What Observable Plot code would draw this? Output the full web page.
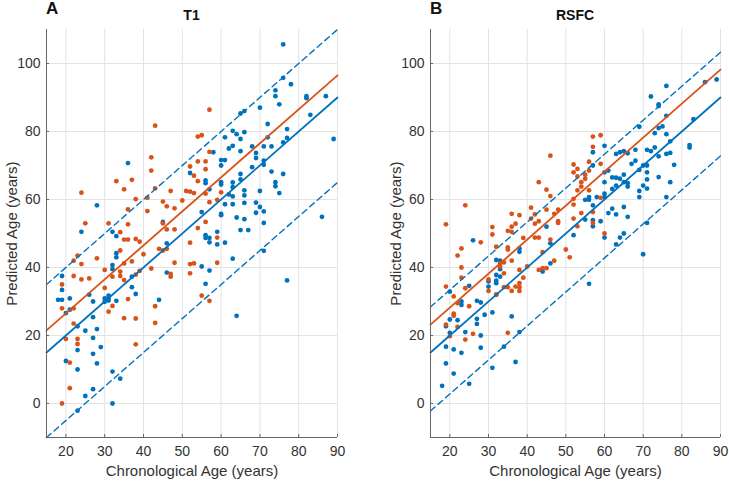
<!DOCTYPE html>
<html>
<head>
<meta charset="utf-8">
<script src="https://cdn.jsdelivr.net/npm/d3@7"></script>
<script src="https://cdn.jsdelivr.net/npm/@observablehq/plot@0.6"></script>
<style>
  html, body { margin: 0; padding: 0; background: #fff; }
  #wrap { position: relative; width: 729px; height: 482px; font-family: "Liberation Sans", Arial, sans-serif; }
  .panel { position: absolute; top: 0; }
  .tag { position: absolute; font-weight: bold; font-size: 17px; color: #111; top: -1px; }
  .ttl { position: absolute; font-weight: bold; font-size: 14px; color: #111; top: 7px; transform: translateX(-50%); }
</style>
</head>
<body>
<div id="wrap"></div>
<script>
// ---------- data ----------
const xTicks = [20, 30, 40, 50, 60, 70, 80, 90];
const yTicks = [0, 20, 40, 60, 80, 100];
const xDomain = [15, 90];
const yDomain = [-10, 110];
const panelTags = ["A", "B"];
const panelTitles = ["T1", "RSFC"];
const xLabel = "Chronological Age (years)";
const yLabel = "Predicted Age (years)";

// Fit lines: predicted age at chronological age 15 and 90
const lineAges = [15, 90];
const A_orangeFit = [21.5, 96.5];
const A_blueFit = [15, 90];
const A_upperBand = [35, 110];
const A_lowerBand = [-10, 65];
const B_orangeFit = [23.2, 98.2];
const B_blueFit = [15, 90];
const B_upperBand = [28.4, 103.3];
const B_lowerBand = [-2.2, 72.8];

// Panel A (T1) points [age, predicted]
const A_orange = [[19,0],[19,35],[19,28],[20,19],[21,12],[21,4.5],[22,42],[22,37.5],[22,28],[22,23.5],[23,43.5],[23,19],[23,17.5],[24,62],[24,41],[24,36.5],[25,53],[26,36.8],[28,42.7],[30,39.3],[30,34],[31,53],[31,27],[32,37.3],[32,28.7],[33,65.4],[34,50.4],[34,45],[34,38.8],[34,37.5],[35,63],[35,48.2],[35,41.2],[35,36.3],[35,25.1],[36,57.1],[36,52.7],[36,48.2],[36,30.7],[37,65.8],[37,41.8],[38,60.1],[38,48.4],[38,37.9],[38,25],[38,17.4],[39,47.6],[39,39],[40,43.9],[41,60.5],[41,56.6],[42,72.4],[42,68.5],[42,39.7],[43,81.7],[43,63.3],[43,28.6],[43,23.7],[44,45.5],[45,45],[46,45.5],[45,59.4],[45,53],[46,58],[46,51.2],[47,62.5],[47,38.1],[47,37.3],[48,57.4],[48,51.2],[48,41.4],[50,59.7],[51,62.5],[52,69.7],[52,62.3],[52,47.3],[52,41],[52,38.3],[53,61.9],[53,67],[53,41.2],[54,78.5],[54,71.2],[54,65.4],[54,51.6],[55,78.9],[55,31.7],[56,71.2],[56,68.9],[56,61.7],[56,53.4],[57,86.4],[57,74],[57,59.2],[57,30.2],[59,59.9],[59,48.8],[59,41.4],[60,62.1]];
const A_blue = [[18,30.5],[19,30.5],[19,37.5],[19,33.4],[20,26.6],[20,12.5],[21,30.9],[21,27.6],[23,22.7],[23,15.7],[23,10],[23,-2.1],[24,50.5],[25,21.4],[25,2.2],[26,32],[27,30],[27,25.4],[27,19.3],[27,14.6],[27,4.2],[28,58.3],[28,21.9],[28,11.8],[29,16.6],[30,30.9],[30,29.9],[31,31.7],[31,30.9],[31,30.3],[32,50.5],[32,40.7],[32,39.5],[32,9.4],[32,0],[33,49.2],[33,44.2],[33,43],[33,30.2],[34,7.3],[36,70.7],[37,37.3],[37,34.2],[38,32.2],[44,30.5],[45,53.4],[46,47.1],[46,38.5],[52,67.8],[55,56.3],[55,40.3],[56,65.6],[56,64.8],[56,49.5],[56,48.7],[56,35.2],[57,63],[57,48.7],[57,47.4],[57,39.1],[58,73.9],[59,50.5],[59,46.8],[60,71.6],[60,70],[60,65.1],[60,64.4],[60,55.8],[60,55.4],[61,78.3],[61,71.6],[61,58.6],[61,47.3],[62,75],[62,61.5],[63,80.2],[63,75.8],[63,65],[63,63.6],[63,60.9],[63,58.6],[63,42.6],[64,79.2],[64,54.7],[64,25.8],[65,85.3],[65,77.8],[65,74.2],[65,67.5],[65,65.9],[65,51],[66,86],[66,79.8],[66,62.7],[66,61.2],[66,59],[66,54.2],[67,51],[68,75.6],[68,69.5],[69,73.7],[69,72.2],[69,59.1],[69,56.1],[70,87],[70,62.5],[70,57.8],[71,75.6],[71,71.4],[71,70.2],[71,56.5],[71,53.1],[71,44.9],[72,82.2],[72,78.3],[73,75.6],[73,68.2],[74,92.1],[74,90.4],[74,65.1],[74,63.9],[75,88],[75,61.9],[76,105.6],[76,95.8],[76,76.8],[76,67.5],[77,80.7],[77,78.1],[77,36.2],[78,93.9],[82,90.4],[82,89.8],[83,84.9],[86,54.9],[87,90.4],[89,77.8]];

// Panel B (RSFC) points [age, predicted]
const B_orange = [[19,52.7],[19,34.4],[19,23.2],[20,19.8],[21,31.5],[21,26.4],[21,25.8],[22,29.5],[22,22.5],[22,43.5],[23,45.6],[23,40],[23,37],[24,58.3],[24,33.9],[24,18.8],[25,28.6],[26,20.5],[28,47.4],[30,36.5],[30,33.1],[31,51.9],[31,49.7],[32,46.1],[32,32],[33,40.3],[33,41.2],[34,41.5],[34,38.3],[34,34.2],[35,50.8],[35,45.9],[35,45.3],[35,34.2],[35,20.8],[36,55.8],[36,52],[36,50.5],[36,42],[36,33.1],[37,52.9],[37,34.4],[38,55.4],[38,39.3],[38,35.4],[38,34.2],[38,33.1],[39,48.7],[39,37],[40,40.3],[41,57.6],[41,54.4],[42,55.6],[42,52.9],[42,48.8],[43,65.1],[43,53.6],[43,48.8],[43,39.3],[44,44.5],[44,39.8],[45,62.9],[45,57],[45,39.8],[46,72.9],[46,61],[46,48.2],[47,55.8],[47,42],[48,57],[48,53.6],[48,53.1],[50,45.3],[51,43],[52,70.3],[52,68],[52,60.2],[52,58.5],[52,54.4],[53,69],[53,66.8],[53,62.7],[53,52.1],[54,65.1],[54,63.8],[54,56],[55,67.3],[55,66.1],[56,71.1],[56,68.5],[56,62.7],[57,78.5],[57,75.5],[57,56.3],[57,53.1],[59,78.9],[59,70.5],[59,60.5],[60,50]];
const B_blue = [[18,5.2],[19,22.7],[19,16.7],[19,11.8],[20,32.9],[20,24.7],[20,20.8],[21,15.9],[21,8.8],[22,24.5],[23,30],[23,29],[23,14.9],[24,21],[25,34.6],[25,5.8],[26,48],[27,30.2],[27,24.9],[27,23.4],[28,29.7],[28,20],[28,16.4],[29,26.1],[30,35.9],[30,34.4],[31,26.8],[31,10.5],[32,42.2],[32,37.8],[32,36.1],[32,35.4],[32,32],[33,42],[33,39.5],[33,37.3],[34,16.7],[36,25.6],[37,12.2],[38,45.6],[38,44.6],[38,21],[44,38.8],[45,52],[46,47.1],[46,41.2],[52,49.5],[55,59.9],[55,54.1],[56,60.7],[56,59.9],[56,35.2],[57,73.9],[57,70],[57,58.3],[57,53.9],[57,52.1],[58,60.7],[59,53.6],[60,75.8],[60,68],[60,65.1],[60,61.7],[60,60.7],[60,48.8],[61,68.5],[61,56],[62,57.3],[62,63.1],[62,66.5],[63,73.4],[63,66.4],[63,64.1],[63,55.6],[63,46.8],[64,73.9],[64,66.1],[64,48.8],[65,74.2],[65,67.3],[65,65.1],[65,57.8],[65,50],[66,73.6],[66,64.8],[66,63.8],[66,54.9],[67,70.5],[68,74.6],[68,71.4],[69,81.4],[69,68.7],[69,62.5],[69,60.7],[70,70],[70,64.1],[70,43.9],[71,74.6],[71,70],[71,68],[71,65.9],[71,63.2],[71,53.1],[72,90.3],[72,74.2],[73,79.5],[73,75.3],[74,88],[74,87.5],[74,81],[74,72.7],[74,66.6],[75,81.5],[76,93.4],[76,84.6],[76,79.2],[76,73.4],[76,60.7],[77,77.1],[77,73.7],[77,65.1],[78,70.2],[82,76],[82,75.3],[83,83.6],[86,94.5],[89,95.3]];

// ---------- drawing ----------
const BLUE = "#0072BD", ORANGE = "#D95319";
const wrap = document.getElementById("wrap");

function toLine(vals) { return lineAges.map((a, i) => ({x: a, y: vals[i]})); }

function panel(opts) {
  const {left, width, marginLeft, marginRight, blue, orange, orangeFit, blueFit, upper, lower, tag, title} = opts;
  const chart = Plot.plot({
    width, height: 482,
    marginLeft, marginRight, marginTop: 29, marginBottom: 45,
    style: {fontFamily: "'Liberation Sans', Arial, sans-serif", color: "#333", background: "transparent"},
    x: {domain: xDomain},
    y: {domain: yDomain},
    marks: [
      Plot.gridX(xTicks, {stroke: "#e3e3e3", strokeOpacity: 1}),
      Plot.gridY(yTicks, {stroke: "#e3e3e3", strokeOpacity: 1}),
      Plot.dot(blue, {x: d => d[0], y: d => d[1], r: 2.4, fill: BLUE}),
      Plot.dot(orange, {x: d => d[0], y: d => d[1], r: 2.4, fill: ORANGE}),
      Plot.line(toLine(upper), {x: "x", y: "y", stroke: BLUE, strokeWidth: 1.4, strokeDasharray: "6,4"}),
      Plot.line(toLine(lower), {x: "x", y: "y", stroke: BLUE, strokeWidth: 1.4, strokeDasharray: "6,4"}),
      Plot.line(toLine(orangeFit), {x: "x", y: "y", stroke: ORANGE, strokeWidth: 1.8}),
      Plot.line(toLine(blueFit), {x: "x", y: "y", stroke: BLUE, strokeWidth: 1.8}),
      Plot.ruleX([xDomain[0]], {stroke: "#666", strokeWidth: 1}),
      Plot.ruleY([yDomain[0]], {stroke: "#666", strokeWidth: 1}),
      Plot.axisX(xTicks, {tickSize: -3, stroke: "#666", text: null, label: null}),
      Plot.axisY(yTicks, {tickSize: -3, stroke: "#666", text: null, label: null}),
      Plot.axisX(xTicks, {tickSize: 0, tickPadding: 9, fill: "#333",
        label: xLabel, labelAnchor: "center", labelArrow: "none", labelOffset: 38}),
      Plot.axisY(yTicks, {tickSize: 0, tickPadding: 6, fill: "#333",
        label: yLabel, labelAnchor: "center", labelArrow: "none", labelOffset: 40})
    ]
  });
  chart.querySelectorAll("g[aria-label$='tick label'] text").forEach(t => { t.style.fontSize = "14px"; });
  chart.querySelectorAll("g[aria-label$='axis label'] text").forEach(t => { t.style.fontSize = "15px"; });
  const div = document.createElement("div");
  div.className = "panel";
  div.style.left = left + "px";
  div.appendChild(chart);
  wrap.appendChild(div);
  const t = document.createElement("div");
  t.className = "tag"; t.textContent = tag; t.style.left = (left + marginLeft) + "px";
  wrap.appendChild(t);
  const h = document.createElement("div");
  h.className = "ttl"; h.textContent = title;
  h.style.left = (left + marginLeft + (width - marginLeft - marginRight) / 2) + "px";
  wrap.appendChild(h);
}

panel({left: 0, width: 365, marginLeft: 46, marginRight: 28, blue: A_blue, orange: A_orange,
  orangeFit: A_orangeFit, blueFit: A_blueFit, upper: A_upperBand, lower: A_lowerBand,
  tag: panelTags[0], title: panelTitles[0]});
panel({left: 365, width: 364, marginLeft: 65, marginRight: 9, blue: B_blue, orange: B_orange,
  orangeFit: B_orangeFit, blueFit: B_blueFit, upper: B_upperBand, lower: B_lowerBand,
  tag: panelTags[1], title: panelTitles[1]});
</script>
</body>
</html>
